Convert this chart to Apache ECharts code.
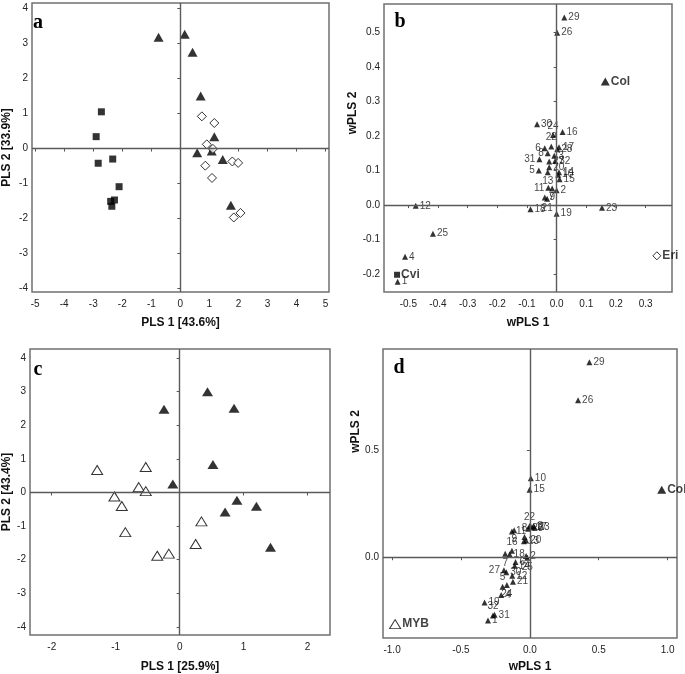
<!DOCTYPE html>
<html>
<head>
<meta charset="utf-8">
<script src="https://cdn.jsdelivr.net/npm/echarts@6/dist/echarts.min.js"></script>
<style>html,body{margin:0;padding:0;background:#fff;}#c{width:685px;height:674px;}</style>
</head>
<body>
<div id="c"></div>
<script>
// ---------- Panel a ----------
const aTriangles = [[-0.75,3.18],[0.15,3.27],[0.42,2.75],[0.70,1.50],[1.17,0.34],[0.58,-0.12],[1.08,-0.07],[1.46,-0.31],[1.74,-1.62]];
const aDiamonds = [[0.74,0.92],[1.17,0.73],[0.91,0.12],[1.12,-0.01],[0.86,-0.49],[1.09,-0.84],[1.79,-0.37],[1.99,-0.41],[1.84,-1.97],[2.07,-1.84]];
const aSquares = [[-2.72,1.05],[-2.90,0.34],[-2.83,-0.42],[-2.33,-0.30],[-2.11,-1.09],[-2.27,-1.47],[-2.40,-1.51],[-2.36,-1.65]];
const aXTicks = [-5,-4,-3,-2,-1,0,1,2,3,4,5];
const aYTicks = [-4,-3,-2,-1,0,1,2,3,4];

// ---------- Panel b ----------
const bNumbered = [
 [-0.536,-0.222],[0.000,0.043],[-0.008,0.143],[-0.511,-0.150],[-0.060,0.100],
 [-0.040,0.165],[-0.040,0.022],[-0.030,0.150],[-0.015,0.048],[0.005,0.088],
 [-0.028,0.050],[-0.475,-0.002],[-0.030,0.095],[0.008,0.095],[0.010,0.075],
 [0.020,0.212],[0.008,0.168],[-0.088,-0.012],[0.000,-0.025],[-0.025,0.110],
 [-0.032,0.018],[-0.018,0.170],[0.153,-0.008],[-0.012,0.203],[-0.417,-0.083],
 [0.002,0.500],[-0.025,0.126],[0.002,0.162],[0.026,0.544],[-0.066,0.234],
 [-0.058,0.133],[-0.005,0.128]
];
const bCol = [0.164,0.358];
const bCvi = [-0.538,-0.202];
const bEri = [0.338,-0.147];
const bXTicks = [-0.5,-0.4,-0.3,-0.2,-0.1,0,0.1,0.2,0.3];
const bYTicks = [-0.2,-0.1,0,0.1,0.2,0.3,0.4,0.5];

// ---------- Panel c ----------
const cFilled = [[0.435,3.00],[0.85,2.51],[-0.245,2.48],[0.52,0.83],[-0.107,0.25],[0.895,-0.23],[1.20,-0.41],[0.71,-0.58],[1.42,-1.63]];
const cOpen = [[-1.29,0.67],[-0.53,0.76],[-0.64,0.16],[-0.53,0.04],[-1.02,-0.12],[-0.905,-0.40],[-0.85,-1.18],[0.34,-0.86],[0.25,-1.53],[-0.17,-1.82],[-0.35,-1.88]];
const cXTicks = [-2,-1,0,1,2];
const cYTicks = [-4,-3,-2,-1,0,1,2,3,4];

// ---------- Panel d ----------
const dNumbered = [
 [-0.304,-0.297],[-0.027,0.006],[0.027,0.146],[-0.208,-0.177],[-0.198,-0.138],
 [-0.104,-0.022],[-0.179,0.016],[-0.039,0.095],[-0.114,0.127],[0.007,0.371],
 [-0.130,0.121],[-0.128,-0.087],[-0.043,0.075],[-0.110,-0.040],[-0.002,0.317],
 [-0.130,0.030],[0.014,0.141],[-0.147,0.014],[-0.329,-0.213],[-0.027,0.079],
 [-0.123,-0.115],[-0.002,0.146],[0.034,0.140],[-0.167,-0.130],[-0.019,-0.003],
 [0.350,0.736],[-0.188,-0.061],[-0.012,0.134],[0.432,0.915],[-0.171,-0.071],
 [-0.256,-0.270],[-0.268,-0.273]
];
const dCol = [0.957,0.317];
const dMYB = [-0.978,-0.314];
const dXTicks = [-1,-0.5,0,0.5,1];
const dYTicks = [0,0.5];

// label placement (style only)
const bLabelPos = {5:'left',6:'left',31:'left',11:'left',8:'left',13:'bottom',9:'bottom',21:'bottom',22:'top',24:'top'};
const dLabelPos = {22:'top',9:'bottom',8:'top',16:'top',7:'bottom',25:'bottom',27:'left',5:'top',24:'bottom',32:'top'};

const FONT = 'Liberation Sans';
const fmtInt = v => String(Math.round(v));
const fmt1 = v => (Math.abs(v) < 1e-9 ? 0 : v).toFixed(1);

function mkAxis(gi, min, max, ticks, fmt, name, gap, isY, pad) {
  return {
    type: 'value', gridIndex: gi, min: min, max: max,
    name: name, nameLocation: 'middle', nameGap: gap,
    nameTextStyle: {fontFamily: FONT, fontSize: 12, fontWeight: 'bold', color: '#111', padding: pad || 0},
    axisLine: {show: false},
    splitLine: {show: false},
    axisTick: {show: true, inside: false, length: 3, customValues: ticks, lineStyle: {color: '#555', width: 1}},
    axisLabel: {customValues: ticks, formatter: fmt, fontFamily: FONT, fontSize: 10, color: '#222', margin: isY ? 4 : 7}
  };
}

const zeroLines = {
  silent: true, symbol: ['none','none'], label: {show: false},
  lineStyle: {color: '#5a5a5a', width: 1.4, type: 'solid'},
  data: [{xAxis: 0}, {yAxis: 0}]
};

const numLabel = {show: true, position: 'right', distance: 1, fontFamily: FONT, fontSize: 10, color: '#111'};
const bigLabel = {show: true, position: 'right', distance: 1, fontFamily: FONT, fontSize: 12, fontWeight: 'bold', color: '#111'};
const fmtName = p => p.name;

const numbered = (arr, posMap) => arr.map((p, i) => {
  const n = i + 1;
  const item = {name: String(n), value: [p[0], p[1]]};
  if (posMap[n]) item.label = {position: posMap[n]};
  return item;
});
const single = (p, name) => [{name: name, value: [p[0], p[1]]}];

const option = {
  animation: false,
  backgroundColor: '#ffffff',
  grid: [
    {left: 26, top: 3, width: 303, height: 289, show: true, borderColor: '#707070', borderWidth: 1.5},
    {left: 384, top: 4, width: 288, height: 288, show: true, borderColor: '#707070', borderWidth: 1.5},
    {left: 24, top: 349, width: 306, height: 292, show: true, borderColor: '#707070', borderWidth: 1.5},
    {left: 383, top: 349, width: 294, height: 291, show: true, borderColor: '#707070', borderWidth: 1.5}
  ],
  xAxis: [
    mkAxis(0, -5.11, 5.12, aXTicks, fmtInt, 'PLS 1 [43.6%]', 25, false),
    mkAxis(1, -0.582, 0.389, bXTicks, fmt1, 'wPLS 1', 25, false),
    mkAxis(2, -2.34, 2.35, cXTicks, fmtInt, 'PLS 1 [25.9%]', 26, false),
    mkAxis(3, -1.066, 1.068, dXTicks, fmt1, 'wPLS 1', 23, false)
  ],
  yAxis: [
    mkAxis(0, -4.1, 4.16, aYTicks, fmtInt, 'PLS 2 [33.9%]', 19, true),
    mkAxis(1, -0.252, 0.583, bYTicks, fmt1, 'wPLS 2', 23, true, [0, 0, 0, 70]),
    mkAxis(2, -4.24, 4.27, cYTicks, fmtInt, 'PLS 2 [43.4%]', 17, true),
    mkAxis(3, -0.379, 0.977, dYTicks, fmt1, 'wPLS 2', 20, true, [0, 0, 0, 124])
  ],
  series: [
    // a
    {type: 'scatter', xAxisIndex: 0, yAxisIndex: 0, symbol: 'triangle', symbolSize: [10, 9], itemStyle: {color: '#000'}, data: aTriangles, markLine: zeroLines, z: 3},
    {type: 'scatter', xAxisIndex: 0, yAxisIndex: 0, symbol: 'diamond', symbolSize: 9, itemStyle: {color: '#fff', borderColor: '#000', borderWidth: 1}, data: aDiamonds, z: 3},
    {type: 'scatter', xAxisIndex: 0, yAxisIndex: 0, symbol: 'rect', symbolSize: 7, itemStyle: {color: '#000'}, data: aSquares, z: 3},
    // b
    {type: 'scatter', xAxisIndex: 1, yAxisIndex: 1, symbol: 'triangle', symbolSize: [6, 6], itemStyle: {color: '#000'}, data: numbered(bNumbered, bLabelPos), label: Object.assign({formatter: fmtName}, numLabel), markLine: zeroLines, z: 3},
    {type: 'scatter', xAxisIndex: 1, yAxisIndex: 1, symbol: 'triangle', symbolSize: [9, 8], itemStyle: {color: '#000'}, data: single(bCol, 'Col'), label: Object.assign({formatter: fmtName}, bigLabel), z: 3},
    {type: 'scatter', xAxisIndex: 1, yAxisIndex: 1, symbol: 'rect', symbolSize: 6, itemStyle: {color: '#000'}, data: single(bCvi, 'Cvi'), label: Object.assign({formatter: fmtName}, bigLabel), z: 3},
    {type: 'scatter', xAxisIndex: 1, yAxisIndex: 1, symbol: 'diamond', symbolSize: 8, itemStyle: {color: '#fff', borderColor: '#000', borderWidth: 1}, data: single(bEri, 'Eri'), label: Object.assign({formatter: fmtName}, bigLabel), z: 3},
    // c
    {type: 'scatter', xAxisIndex: 2, yAxisIndex: 2, symbol: 'triangle', symbolSize: [11, 9], itemStyle: {color: '#000'}, data: cFilled, markLine: zeroLines, z: 3},
    {type: 'scatter', xAxisIndex: 2, yAxisIndex: 2, symbol: 'triangle', symbolSize: [11, 9], itemStyle: {color: '#fff', borderColor: '#000', borderWidth: 1}, data: cOpen, z: 3},
    // d
    {type: 'scatter', xAxisIndex: 3, yAxisIndex: 3, symbol: 'triangle', symbolSize: [6, 6], itemStyle: {color: '#000'}, data: numbered(dNumbered, dLabelPos), label: Object.assign({formatter: fmtName}, numLabel), markLine: zeroLines, z: 3},
    {type: 'scatter', xAxisIndex: 3, yAxisIndex: 3, symbol: 'triangle', symbolSize: [9, 8], itemStyle: {color: '#000'}, data: single(dCol, 'Col'), label: Object.assign({formatter: fmtName}, bigLabel), z: 3},
    {type: 'scatter', xAxisIndex: 3, yAxisIndex: 3, symbol: 'triangle', symbolSize: [11, 9], itemStyle: {color: '#fff', borderColor: '#000', borderWidth: 1}, data: single(dMYB, 'MYB'), label: Object.assign({formatter: fmtName}, bigLabel), z: 3}
  ],
  graphic: [
    {type: 'text', x: 38, y: 23, style: {text: 'a', font: 'bold 20px "Liberation Serif"', fill: '#000', textAlign: 'center', textVerticalAlign: 'middle', align: 'center', verticalAlign: 'middle'}},
    {type: 'text', x: 400, y: 22, style: {text: 'b', font: 'bold 20px "Liberation Serif"', fill: '#000', textAlign: 'center', textVerticalAlign: 'middle', align: 'center', verticalAlign: 'middle'}},
    {type: 'text', x: 38, y: 370, style: {text: 'c', font: 'bold 20px "Liberation Serif"', fill: '#000', textAlign: 'center', textVerticalAlign: 'middle', align: 'center', verticalAlign: 'middle'}},
    {type: 'text', x: 399, y: 368, style: {text: 'd', font: 'bold 20px "Liberation Serif"', fill: '#000', textAlign: 'center', textVerticalAlign: 'middle', align: 'center', verticalAlign: 'middle'}}
  ]
};

const chart = echarts.init(document.getElementById('c'), null, {renderer: 'canvas'});
chart.setOption(option);
</script>
</body>
</html>
